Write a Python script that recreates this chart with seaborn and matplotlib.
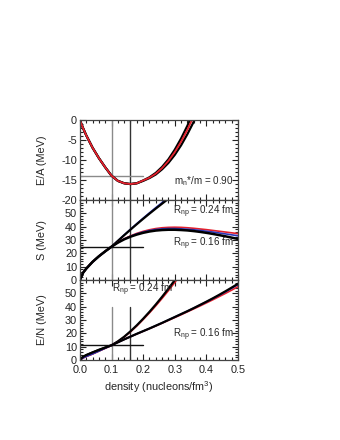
import matplotlib
matplotlib.use("Agg")
import matplotlib.pyplot as plt
from matplotlib.ticker import MultipleLocator, FormatStrFormatter
import seaborn as sns

# density grid (nucleons/fm^3)
density = [0.00, 0.01, 0.02, 0.04, 0.06, 0.08, 0.10, 0.12, 0.14, 0.16, 0.18, 0.20, 0.22, 0.24,
           0.26, 0.28, 0.30, 0.32, 0.34, 0.36, 0.38, 0.40, 0.42, 0.44, 0.46, 0.48, 0.50]

# E/A symmetric matter
ea_black_a = [0, -2.0, -3.8, -6.9, -9.5, -11.8, -13.9, -15.2, -15.8, -16.0, -15.8, -15.1, -14.3, -13.2,
              -11.7, -9.8, -7.4, -4.6, -1.4, 2.2]
ea_red = [0, -2.0, -3.8, -6.9, -9.5, -11.8, -13.9, -15.2, -15.8, -16.0, -15.8, -15.1, -14.4, -13.4,
          -12.0, -10.2, -8.0, -5.4, -2.4, 1.0]
ea_black_b = [0, -2.0, -3.8, -6.9, -9.5, -11.8, -13.9, -15.2, -15.8, -16.0, -15.8, -15.2, -14.5, -13.6,
              -12.3, -10.7, -8.7, -6.3, -3.5, -0.4, 3.0]

# symmetry energy S
s_stiff_black = [0, 5.4, 8.5, 13.6, 17.8, 21.5, 25.0, 29.3, 33.6, 37.8, 41.9, 45.9, 49.8, 53.6,
                 57.3, 61.0, 64.6]
s_stiff_blue = [0, 5.4, 8.5, 13.6, 17.8, 21.5, 25.0, 29.4, 33.8, 38.1, 42.3, 46.4, 50.4, 54.3,
                58.1, 61.9, 65.6]
s_soft_black = [0, 5.4, 8.5, 13.6, 17.8, 21.5, 25.0, 28.0, 30.5, 32.5, 34.1, 35.4, 36.4, 37.1,
                37.5, 37.7, 37.7, 37.5, 37.2, 36.7, 36.1, 35.4, 34.6, 33.7, 32.8, 31.8, 30.8]
s_soft_blue = [0, 5.4, 8.5, 13.6, 17.8, 21.5, 25.0, 28.1, 30.7, 32.8, 34.6, 36.0, 37.1, 37.9,
               38.4, 38.6, 38.6, 38.4, 38.1, 37.7, 37.2, 36.6, 36.0, 35.3, 34.6, 33.9, 33.2]
s_soft_red = [0, 5.4, 8.5, 13.6, 17.8, 21.5, 25.0, 28.2, 30.9, 33.1, 35.0, 36.5, 37.7, 38.6,
              39.2, 39.5, 39.6, 39.5, 39.2, 38.8, 38.3, 37.8, 37.2, 36.6, 36.0, 35.4, 34.8]

# E/N neutron matter
en_stiff_black = [0, 2.3, 3.6, 5.6, 7.6, 9.3, 11.0, 13.9, 17.4, 21.5, 26.0, 30.9, 36.1, 41.6,
                  47.4, 53.5, 59.9, 66.5]
en_stiff_red = [0, 1.5, 2.6, 4.5, 6.8, 8.7, 11.0, 13.8, 17.2, 21.1, 25.5, 30.3, 35.3, 40.6,
                46.2, 52.0, 58.1, 64.4]
en_soft_black = [0, 2.3, 3.6, 5.6, 7.4, 9.2, 11.0, 13.2, 15.4, 17.5, 19.6, 21.6, 23.6, 25.7,
                 27.8, 30.0, 32.2, 34.4, 36.6, 38.9, 41.3, 43.7, 46.2, 48.8, 51.5, 54.3, 57.2]
en_soft_blue = [0, 1.5, 2.6, 4.5, 6.6, 8.8, 11.0, 13.2, 15.4, 17.5, 19.6, 21.6, 23.6, 25.7,
                27.8, 30.0, 32.2, 34.4, 36.6, 38.9, 41.2, 43.6, 46.0, 48.5, 51.1, 53.8, 56.6]
en_soft_red = [0, 1.5, 2.6, 4.5, 6.6, 8.8, 11.0, 13.2, 15.4, 17.5, 19.5, 21.5, 23.5, 25.5,
               27.6, 29.7, 31.8, 33.9, 36.1, 38.3, 40.5, 42.8, 45.1, 47.5, 49.9, 52.4, 55.0]

RED = "#e4202c"
BLUE = "#2a35b8"
GRAY = "#8a8a8a"
DARK = "#333333"
ANN = 7.1

sns.set_theme(style="ticks")
plt.rcParams["font.family"] = ["Liberation Sans", "DejaVu Sans"]
plt.rcParams["mathtext.fontset"] = "custom"
plt.rcParams["mathtext.rm"] = "Liberation Sans"
plt.rcParams["mathtext.it"] = "Liberation Sans"
plt.rcParams["axes.unicode_minus"] = False


def curve(ax, y, color, lw):
    sns.lineplot(x=density[:len(y)], y=y, ax=ax, color=color, lw=lw, sort=False, estimator=None)


def style_axis(ax, minor_y):
    ax.set_xlim(0, 0.5)
    ax.xaxis.set_major_locator(MultipleLocator(0.1))
    ax.xaxis.set_minor_locator(MultipleLocator(0.02))
    ax.xaxis.set_major_formatter(FormatStrFormatter("%.1f"))
    ax.yaxis.set_minor_locator(MultipleLocator(minor_y))
    ax.tick_params(which="both", direction="in", top=True, right=True, labelsize=7.8,
                   colors="#222222", width=0.8, pad=2)
    ax.tick_params(axis="x", pad=3.5)
    ax.tick_params(which="major", length=4)
    ax.tick_params(which="minor", length=2)
    for sp in ax.spines.values():
        sp.set_linewidth(0.9)
        sp.set_color("#444444")
    ax.yaxis.set_label_coords(-0.21, 0.5)


fig, (ax1, ax2, ax3) = plt.subplots(3, 1, sharex=True, figsize=(3.4, 4.4), dpi=100)
fig.subplots_adjust(left=0.235, right=0.700, top=0.727, bottom=0.182, hspace=0)

# top panel
ax1.axvline(0.1, color=GRAY, lw=1.0)
ax1.axvline(0.16, color=DARK, lw=1.0)
ax1.plot([0, 0.2], [-14, -14], color=GRAY, lw=1.0)
curve(ax1, ea_black_a, "black", 1.6)
curve(ax1, ea_black_b, "black", 1.6)
curve(ax1, ea_red, RED, 1.3)
ax1.set_ylim(-20, 0)
ax1.set_yticks([0, -5, -10, -15, -20])
ax1.set_ylabel("E/A (MeV)", fontsize=7.8)
ax1.text(0.485, -15.2, r"m$_n$*/m = 0.90", ha="right", va="center", fontsize=ANN)
style_axis(ax1, 1)

# middle panel
ax2.axvline(0.1, color=GRAY, lw=1.0)
ax2.axvline(0.16, color=DARK, lw=1.0)
ax2.plot([0, 0.2], [25, 25], color="#111111", lw=1.0)
curve(ax2, s_stiff_blue, BLUE, 1.2)
curve(ax2, s_stiff_black, "black", 1.6)
curve(ax2, s_soft_red, RED, 1.2)
curve(ax2, s_soft_blue, BLUE, 1.2)
curve(ax2, s_soft_black, "black", 1.8)
ax2.set_ylim(0, 60)
ax2.set_yticks([0, 10, 20, 30, 40, 50])
ax2.set_ylabel("S (MeV)", fontsize=7.8)
ax2.text(0.485, 51.5, r"R$_{np}$ = 0.24 fm", ha="right", va="center", fontsize=ANN)
ax2.text(0.485, 27, r"R$_{np}$ = 0.16 fm", ha="right", va="center", fontsize=ANN)
style_axis(ax2, 2)

# bottom panel
ax3.plot([0.1, 0.1], [0, 40], color=GRAY, lw=1.0)
ax3.plot([0.16, 0.16], [0, 40], color=DARK, lw=1.0)
ax3.plot([0, 0.2], [11, 11], color="#111111", lw=1.0)
curve(ax3, en_stiff_red, RED, 1.2)
curve(ax3, en_stiff_black, "black", 1.6)
curve(ax3, en_soft_red, RED, 1.2)
curve(ax3, en_soft_blue, BLUE, 1.2)
curve(ax3, en_soft_black, "black", 1.6)
ax3.set_ylim(0, 60)
ax3.set_yticks([0, 10, 20, 30, 40, 50])
ax3.set_ylabel("E/N (MeV)", fontsize=7.8)
ax3.text(0.10, 52.5, r"R$_{np}$ = 0.24 fm", ha="left", va="center", fontsize=ANN)
ax3.text(0.485, 18.7, r"R$_{np}$ = 0.16 fm", ha="right", va="center", fontsize=ANN)
ax3.set_xlabel(r"density (nucleons/fm$^3$)", fontsize=7.8, labelpad=3)
style_axis(ax3, 2)

fig.savefig("out.png", dpi=100, facecolor="white")
